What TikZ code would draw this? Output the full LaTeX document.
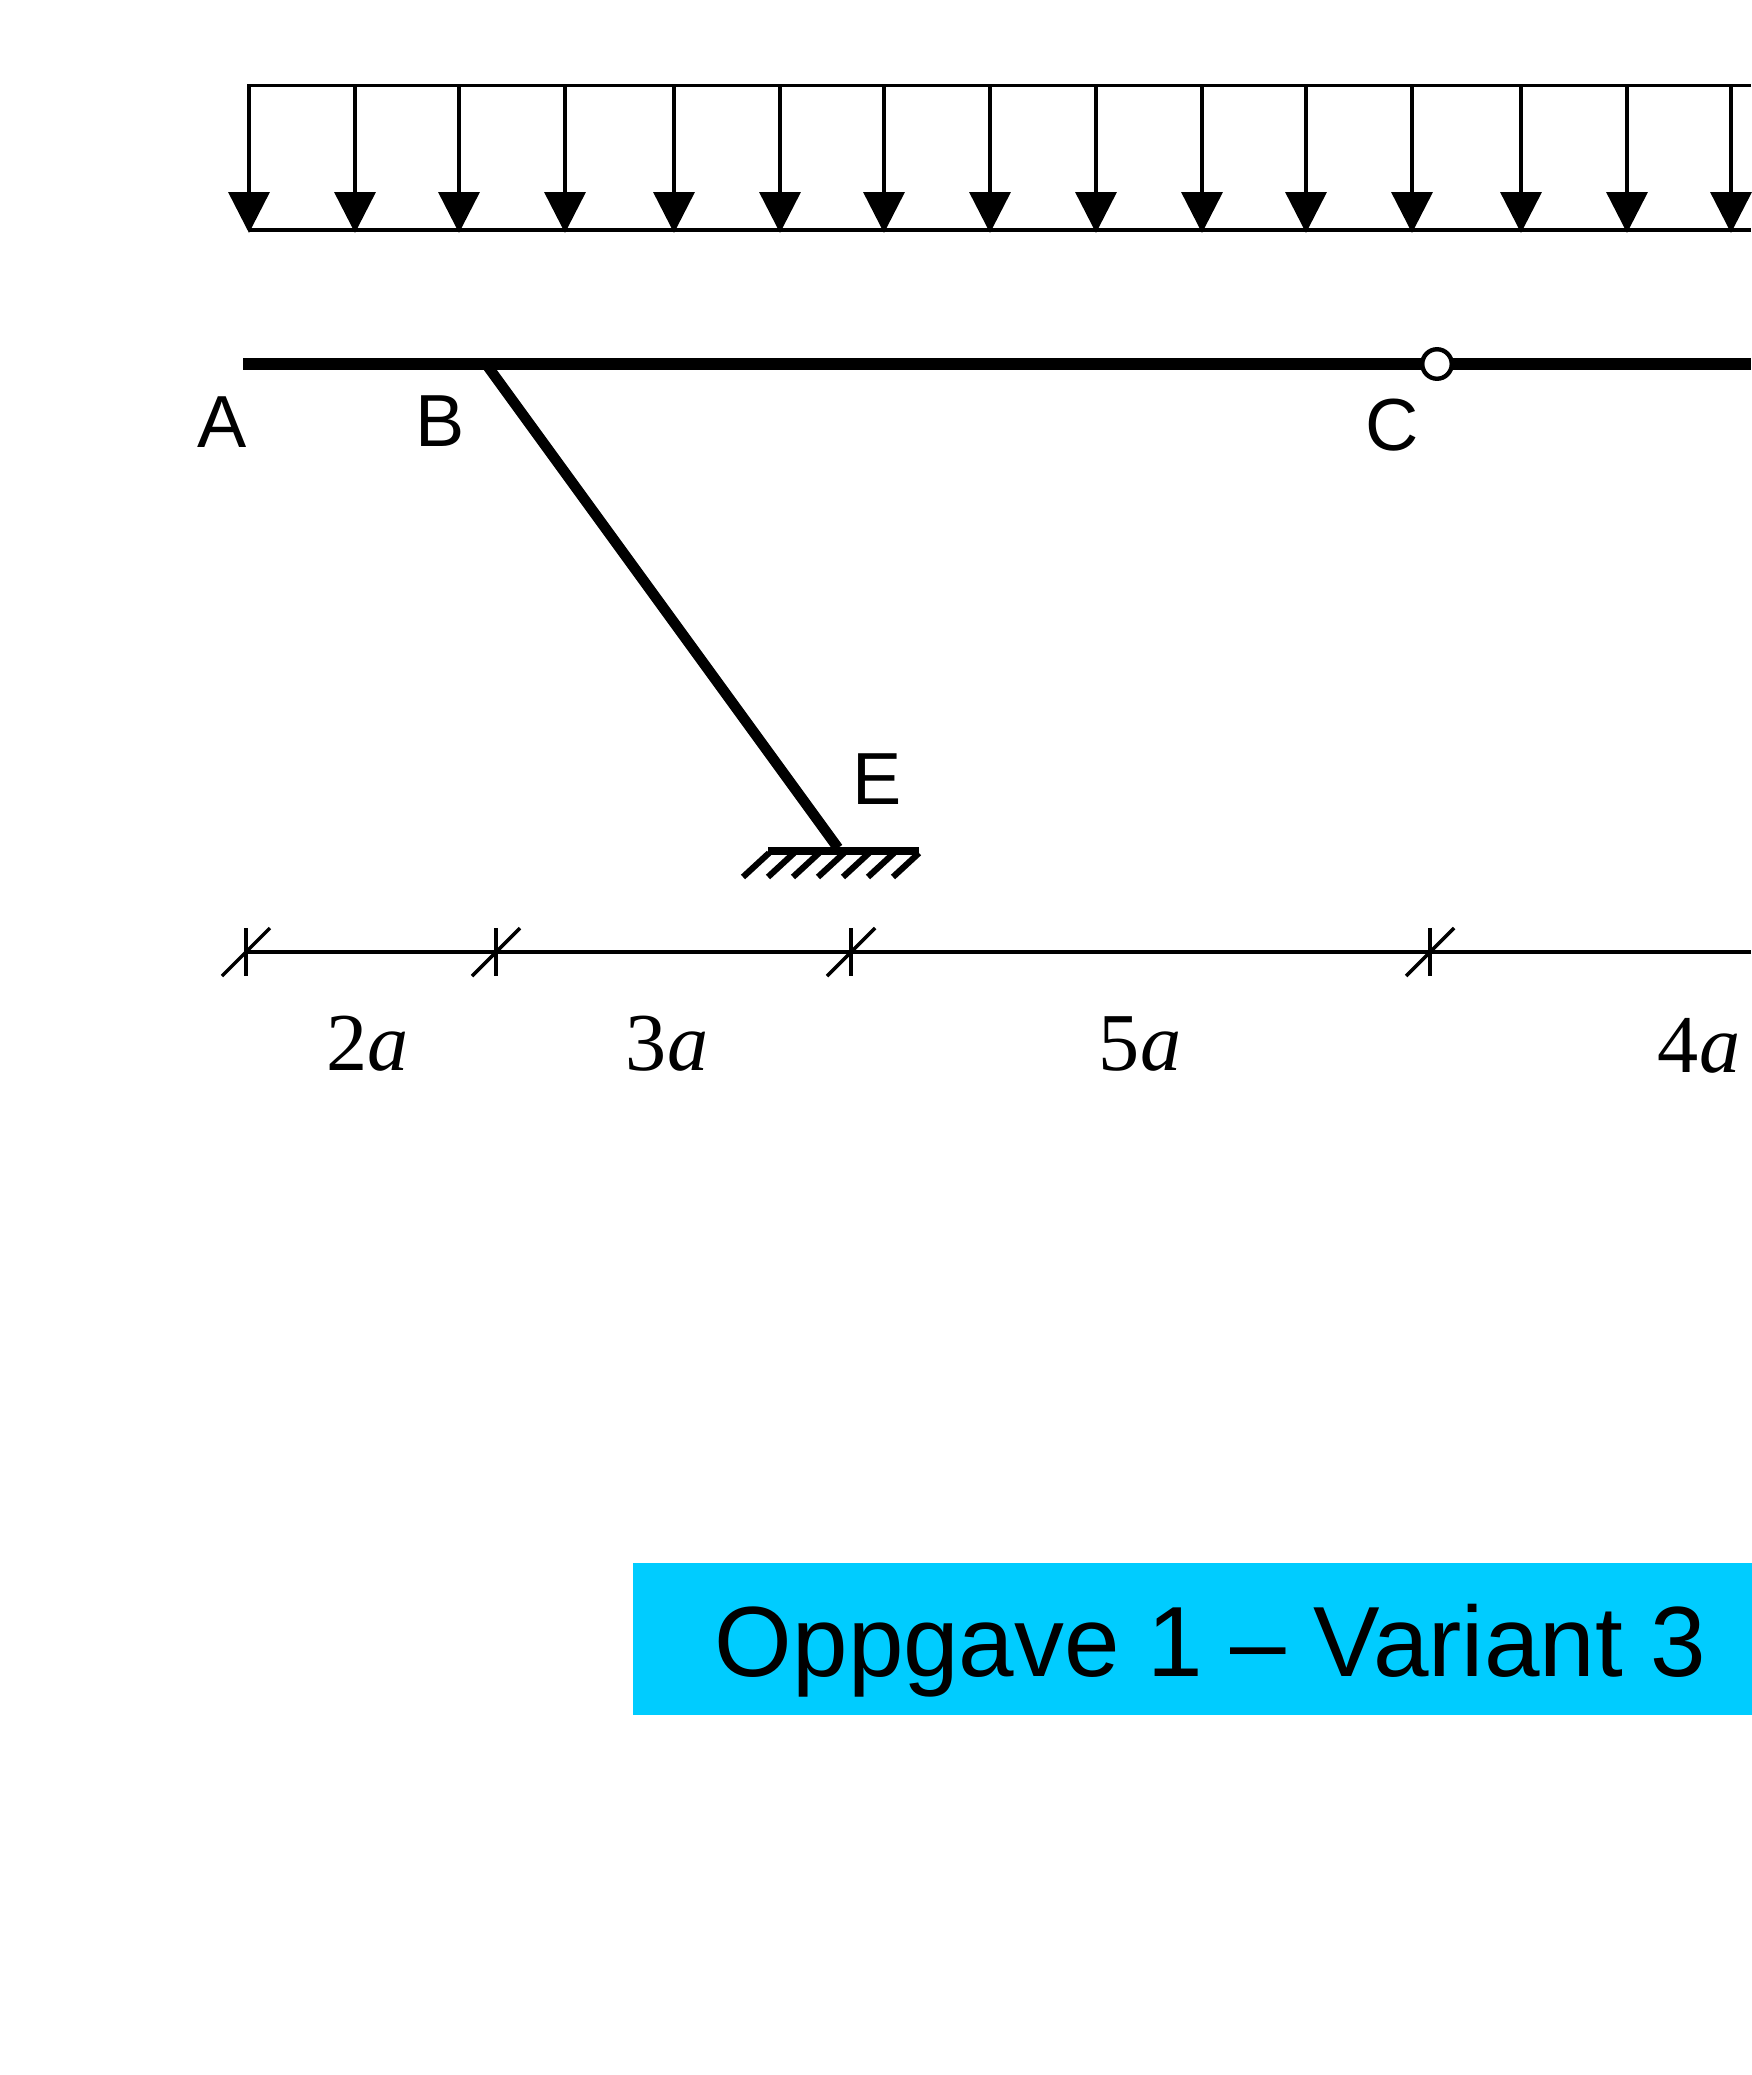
\documentclass[tikz,border=0pt]{standalone}
\usepackage{fontspec}
\setmainfont{Liberation Sans}
\newfontfamily\dimfont{Liberation Serif}
\usetikzlibrary{arrows.meta}
\definecolor{tittelblaa}{HTML}{00CCFF}
\tikzset{
  lwire/.style   = {line width=2.1pt},
  pil/.style     = {line width=2pt, -{Triangle[length=23.2pt,width=23.2pt]}},
  bwire/.style   = {line width=6.5pt},
  swire/.style   = {line width=6pt},
  gwire/.style   = {line width=4.4pt},
  hwire/.style   = {line width=3.5pt},
  dwire/.style   = {line width=1.8pt},
  twire/.style   = {line width=2pt},
  hdot/.style    = {circle, draw, fill=white, line width=2.5pt, inner sep=0pt, minimum size=16.8pt},
  lbl/.style     = {font=\fontsize{42}{50}\selectfont, inner sep=0pt, anchor=base},
  dlbl/.style    = {font=\fontsize{46.8}{56}\dimfont, inner sep=0pt, anchor=base},
  tboks/.style   = {fill=tittelblaa, inner sep=0pt, minimum width=640.6pt, minimum height=86.2pt},
  ttxt/.style    = {font=\fontsize{56.8}{68}\selectfont, inner sep=0pt, anchor=base},
}
\begin{document}
\begin{tikzpicture}[x=0.02cm,y=-0.02cm]
  \useasboundingbox (0,0) rectangle (1751,2075);
  % fordelt last
  \coordinate (lt0) at (247,85.5);
  \coordinate (lt1) at (1751,85.5);
  \coordinate (lb0) at (249,230);
  \coordinate (lb1) at (1751,230);
  \draw[lwire] (lt0) -- (lt1);
  \draw[lwire] (lb0) -- (lb1);
  \foreach \x [count=\i] in {249,355,459,565,674,780,884,990,1096,1202,1306,1412,1521,1627,1731}{
    \coordinate (pt\i) at (\x,85);
    \coordinate (pb\i) at (\x,233);
    \draw[pil] (pt\i) -- (pb\i);
  }
  % bjelke
  \coordinate (A) at (243,364);
  \coordinate (B) at (486,364);
  \coordinate (R) at (1751,364);
  \coordinate (E) at (838,848);
  \draw[swire] (B) -- (E);
  \draw[bwire] (A) -- (R);
  \node[hdot] (C) at (1437,364) {};
  % innspenning
  \coordinate (g0) at (768,851);
  \coordinate (g1) at (919,851);
  \draw[gwire] (g0) -- (g1);
  \foreach \i in {0,...,6}{
    \coordinate (h\i a) at ({743+25*\i},877);
    \coordinate (h\i b) at ({769+25*\i},853);
    \draw[hwire] (h\i a) -- (h\i b);
  }
  \node[lbl] (lA) at (222,447) {A};
  \node[lbl] (lB) at (440,446) {B};
  \node[lbl] (lC) at (1392,450) {C};
  \node[lbl] (lE) at (877,804) {E};
  % maal
  \coordinate (d0) at (246,952);
  \coordinate (d1) at (1751,952);
  \draw[dwire] (d0) -- (d1);
  \foreach \x [count=\i] in {246,496,851,1430}{
    \coordinate (v\i a) at (\x,928);
    \coordinate (v\i b) at (\x,976);
    \coordinate (s\i a) at (\x-24,976);
    \coordinate (s\i b) at (\x+24,928);
    \draw[twire] (v\i a) -- (v\i b);
    \draw[twire] (s\i a) -- (s\i b);
  }
  \node[dlbl] (m1) at (367.5,1070) {2\itshape a};
  \node[dlbl] (m2) at (667,1070) {3\itshape a};
  \node[dlbl] (m3) at (1140,1070) {5\itshape a};
  \node[dlbl] (m4) at (1699,1072) {4\itshape a};
  % tittel
  \node[tboks] (tb) at (1196,1639) {};
  \node[ttxt] (tt) at (1210.5,1676) {Oppgave 1 – Variant 3};
\end{tikzpicture}
\end{document}
